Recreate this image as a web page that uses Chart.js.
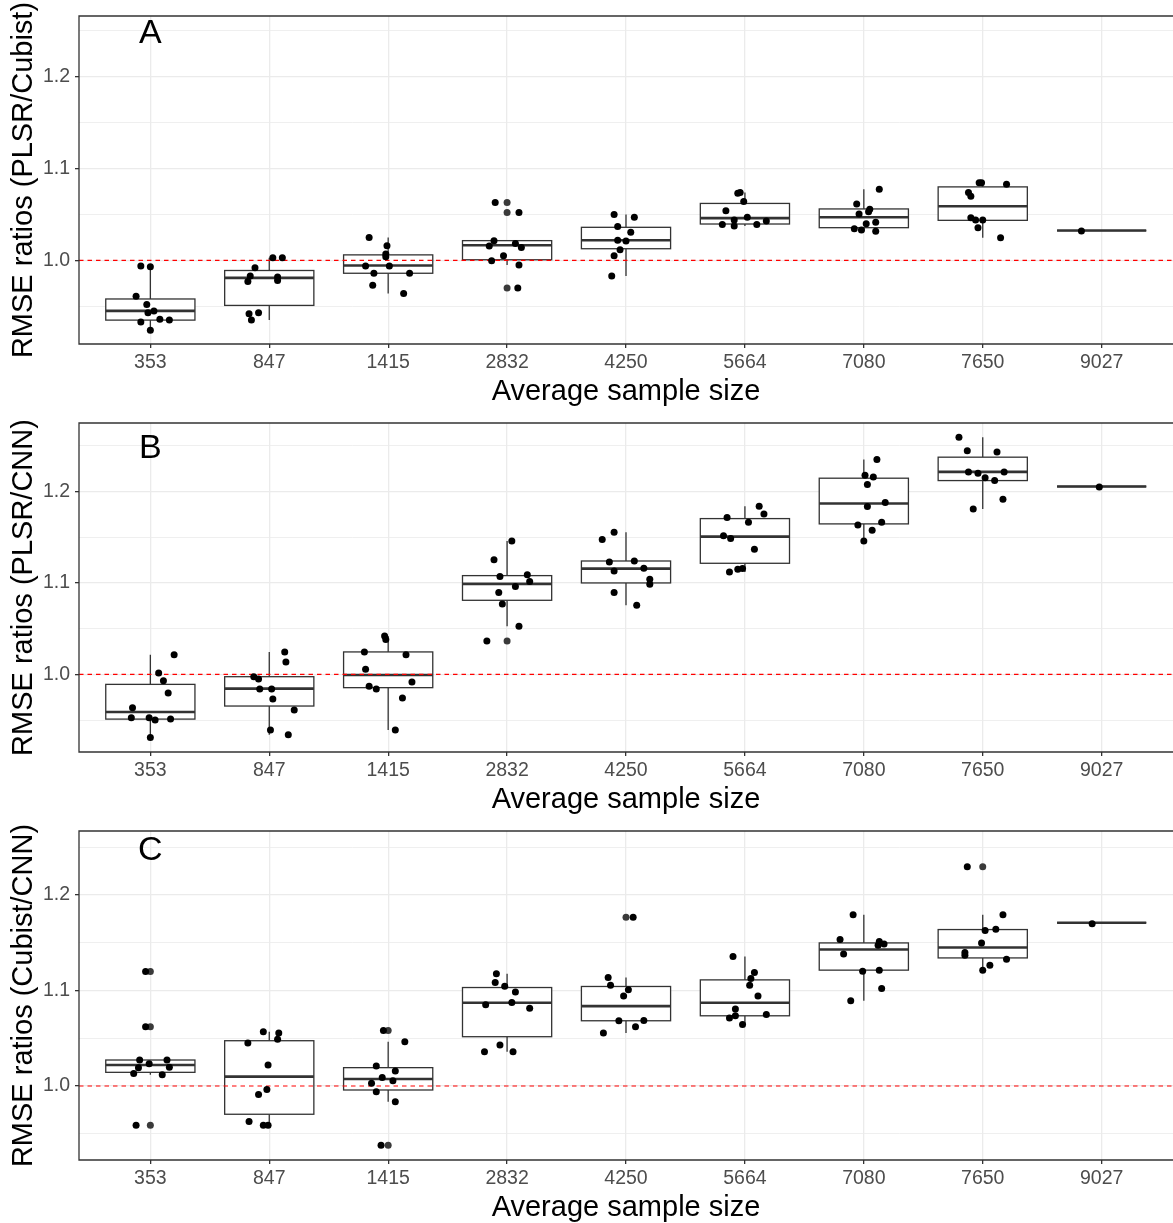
<!DOCTYPE html>
<html>
<head>
<meta charset="utf-8">
<title>RMSE ratios</title>
<script src="https://cdn.jsdelivr.net/npm/chart.js@4.4.0/dist/chart.umd.min.js"></script>
<style>
  body { margin: 0; background: #ffffff; overflow: hidden; }
  canvas { display: block; }
</style>
</head>
<body>
<canvas id="chartA" width="1173" height="407"></canvas>
<canvas id="chartB" width="1173" height="408"></canvas>
<canvas id="chartC" width="1173" height="408"></canvas>
<script>
var categories = ['353', '847', '1415', '2832', '4250', '5664', '7080', '7650', '9027'];
var yMajorTicks = [1.0, 1.1, 1.2];
var yMinorTicks = [0.95, 1.05, 1.15, 1.25];
var refValue = 1.0;

// panel A : PLSR/Cubist
var aPoints = [
    [0.994, 0.993, 0.961, 0.952, 0.943, 0.945, 0.933, 0.936, 0.935, 0.924],
    [1.003, 1.003, 0.992, 0.983, 0.977, 0.982, 0.978, 0.942, 0.943, 0.935],
    [1.025, 1.016, 1.007, 1.004, 0.994, 0.994, 0.986, 0.973, 0.986, 0.964],
    [1.063, 1.052, 1.0215, 1.0156, 1.0185, 1.014, 1.005, 0.9996, 0.995, 0.970],
    [1.050, 1.047, 1.037, 1.0305, 1.022, 1.021, 1.0116, 1.005, 0.983],
    [1.073, 1.074, 1.064, 1.054, 1.044, 1.047, 1.043, 1.039, 1.0375, 1.039],
    [1.0775, 1.0615, 1.0505, 1.053, 1.0556, 1.040, 1.0415, 1.0345, 1.033, 1.0316],
    [1.0844, 1.0844, 1.083, 1.0738, 1.0698, 1.0465, 1.044, 1.044, 1.0356, 1.0247],
    [1.032]
];
var aJitter = [
    [-0.08, 0.00, -0.12, -0.03, -0.02, 0.03, -0.08, 0.08, 0.16, 0.00],
    [0.03, 0.11, -0.12, -0.16, -0.18, 0.07, 0.07, -0.17, -0.09, -0.15],
    [-0.16, -0.01, -0.02, -0.02, -0.19, 0.01, -0.12, -0.13, 0.18, 0.13],
    [-0.10, 0.10, -0.11, -0.15, 0.07, 0.12, -0.03, -0.13, 0.10, 0.09],
    [-0.10, 0.07, -0.07, 0.04, -0.07, 0.00, -0.05, -0.10, -0.12],
    [-0.06, -0.04, -0.01, -0.16, -0.09, 0.02, 0.18, -0.19, -0.09, 0.10],
    [0.13, -0.06, -0.04, 0.04, 0.05, 0.02, 0.10, -0.08, -0.02, 0.10],
    [-0.03, -0.01, 0.20, -0.12, -0.10, -0.10, -0.06, 0.00, -0.04, 0.15],
    [-0.17]
];
var aOutCat = [3, 3, 3];
var aOutVal = [1.063, 1.052, 0.970];
var aLo  = [0.924, 0.935, 0.964, 0.995, 0.983, 1.0375, 1.0316, 1.0247, 1.0325];
var aQ1  = [0.935, 0.951, 0.986, 1.0007, 1.0127, 1.0396, 1.0356, 1.0436, 1.0325];
var aMed = [0.945, 0.981, 0.9945, 1.0164, 1.022, 1.046, 1.047, 1.059, 1.0325];
var aQ3  = [0.958, 0.989, 1.006, 1.0215, 1.036, 1.062, 1.056, 1.080, 1.0325];
var aHi  = [0.993, 1.003, 1.025, 1.0215, 1.050, 1.074, 1.0775, 1.0844, 1.0325];

// panel B : PLSR/CNN
var bPoints = [
    [1.0215, 1.0015, 0.993, 0.9796, 0.9635, 0.9526, 0.9526, 0.950, 0.951, 0.931],
    [1.0245, 1.0135, 0.9974, 0.995, 0.984, 0.984, 0.973, 0.961, 0.939, 0.934],
    [1.042, 1.038, 1.0245, 1.0055, 0.987, 0.984, 0.939, 1.0215, 0.9916, 0.974],
    [1.146, 1.1255, 1.107, 1.109, 1.1015, 1.096, 1.0894, 1.077, 1.0526, 1.0365],
    [1.1555, 1.1474, 1.123, 1.124, 1.113, 1.116, 1.104, 1.0985, 1.0894, 1.0755],
    [1.184, 1.1755, 1.1715, 1.1664, 1.1515, 1.1485, 1.1369, 1.112, 1.115, 1.1157],
    [1.235, 1.2179, 1.216, 1.2077, 1.188, 1.1836, 1.1635, 1.1664, 1.1577, 1.146],
    [1.2595, 1.2445, 1.2434, 1.2215, 1.220, 1.2215, 1.215, 1.212, 1.1916, 1.181],
    [1.2051]
];
var bJitter = [
    [0.20, 0.07, 0.11, 0.15, -0.15, -0.16, -0.01, 0.04, 0.17, 0.00],
    [0.13, 0.14, -0.13, -0.09, -0.08, 0.02, 0.03, 0.21, 0.01, 0.16],
    [-0.03, -0.02, -0.20, -0.19, -0.16, -0.10, 0.06, 0.15, 0.20, 0.12],
    [0.04, -0.11, -0.06, 0.17, 0.19, 0.07, -0.07, -0.04, 0.10, -0.17],
    [-0.10, -0.20, -0.14, 0.07, -0.10, 0.15, 0.20, 0.20, -0.10, 0.09],
    [0.12, 0.16, -0.15, 0.03, -0.18, -0.12, 0.08, -0.13, -0.06, -0.02],
    [0.11, 0.01, 0.08, 0.03, 0.18, 0.03, -0.05, 0.15, 0.07, 0.00],
    [-0.20, -0.13, 0.12, -0.12, -0.04, 0.18, 0.02, 0.10, 0.17, -0.08],
    [-0.02]
];
var bOutCat = [3];
var bOutVal = [1.0365];
var bLo  = [0.931, 0.934, 0.939, 1.0526, 1.0755, 1.112, 1.146, 1.181, 1.2055];
var bQ1  = [0.951, 0.9653, 0.9854, 1.081, 1.100, 1.1215, 1.1646, 1.212, 1.2055];
var bMed = [0.9588, 0.9843, 0.9993, 1.099, 1.1157, 1.1507, 1.1869, 1.2215, 1.2055];
var bQ3  = [0.989, 0.9974, 1.0245, 1.108, 1.124, 1.1704, 1.2146, 1.2376, 1.2055];
var bHi  = [1.0215, 1.0245, 1.042, 1.146, 1.1555, 1.184, 1.235, 1.2595, 1.2055];

// panel C : Cubist/CNN
var cPoints = [
    [1.12, 1.062, 1.0272, 1.0272, 1.0233, 1.019, 1.0195, 1.0132, 1.0118, 0.9589],
    [1.0568, 1.0554, 1.049, 1.045, 1.022, 0.9962, 0.991, 0.9627, 0.9589, 0.9589],
    [1.058, 1.021, 1.009, 1.0028, 1.0157, 1.0056, 0.994, 0.9836, 0.938, 1.0463],
    [1.1174, 1.1084, 1.1045, 1.0983, 1.0875, 1.085, 1.0815, 1.0429, 1.0359, 1.0359],
    [1.1767, 1.1136, 1.1056, 1.1007, 1.0941, 1.0683, 1.0686, 1.062, 1.0554],
    [1.1355, 1.1188, 1.1125, 1.1056, 1.0941, 1.0805, 1.0735, 1.0711, 1.0749, 1.0645],
    [1.1794, 1.1533, 1.1512, 1.1474, 1.1488, 1.1383, 1.1202, 1.1213, 1.1021, 1.0892],
    [1.2296, 1.1794, 1.1627, 1.1641, 1.1498, 1.1397, 1.1369, 1.1328, 1.1265, 1.1213],
    [1.17]
];
var cJitter = [
    [-0.04, -0.04, -0.09, 0.14, -0.01, -0.10, 0.16, -0.14, 0.10, -0.12],
    [-0.05, 0.08, 0.07, -0.18, -0.01, -0.02, -0.09, -0.17, -0.05, -0.01],
    [-0.04, -0.10, -0.05, -0.14, 0.06, 0.04, -0.10, 0.06, -0.06, 0.14],
    [-0.09, -0.10, -0.02, 0.07, 0.04, -0.18, 0.19, -0.06, -0.19, 0.05],
    [0.06, -0.15, -0.13, 0.02, -0.02, -0.06, 0.15, 0.08, -0.19],
    [-0.10, 0.08, 0.05, 0.04, 0.11, -0.08, -0.08, -0.13, 0.18, -0.02],
    [-0.09, -0.20, 0.13, 0.12, 0.17, -0.17, -0.01, 0.13, 0.15, -0.11],
    [-0.13, 0.17, 0.02, 0.11, -0.01, -0.15, -0.15, 0.20, 0.06, 0.00],
    [-0.08]
];
var cOutCat = [0, 0, 0, 2, 2, 4, 7];
var cOutVal = [1.12, 1.062, 0.9589, 1.058, 0.938, 1.1767, 1.2296];
var cLo  = [1.0118, 0.9589, 0.9836, 1.0359, 1.0554, 1.0645, 1.0892, 1.1213, 1.171];
var cQ1  = [1.0143, 0.9704, 0.9958, 1.0516, 1.0683, 1.0735, 1.1213, 1.1341, 1.171];
var cMed = [1.022, 1.0098, 1.0073, 1.0871, 1.0836, 1.0871, 1.1429, 1.145, 1.171];
var cQ3  = [1.0272, 1.0474, 1.0192, 1.1031, 1.1042, 1.1111, 1.1498, 1.1638, 1.171];
var cHi  = [1.0272, 1.0568, 1.0463, 1.1174, 1.1136, 1.1355, 1.1794, 1.1794, 1.171];

var FONT = "'Liberation Sans', Arial, sans-serif";
var xMin = -0.6, xMax = categories.length - 0.4;
var boxHalf = 0.375;

function isMajor(v) {
    return yMajorTicks.some(function (m) { return Math.abs(m - v) < 1e-6; });
}

// box + whiskers drawn under the points, through the chart's scales
var boxPlugin = {
    id: 'boxes',
    beforeDatasetsDraw: function (chart, args, opts) {
        var xs = chart.scales.x, ys = chart.scales.y, ctx = chart.ctx;
        ctx.save();
        ctx.strokeStyle = '#333333';
        for (var i = 0; i < opts.med.length; i++) {
            var xc = xs.getPixelForValue(i);
            var x0 = xs.getPixelForValue(i - boxHalf);
            var x1 = xs.getPixelForValue(i + boxHalf);
            var top = ys.getPixelForValue(opts.q3[i]);
            var bot = ys.getPixelForValue(opts.q1[i]);
            var mid = ys.getPixelForValue(opts.med[i]);
            ctx.lineWidth = 1.3;
            ctx.beginPath();
            ctx.moveTo(xc, ys.getPixelForValue(opts.hi[i]));
            ctx.lineTo(xc, top);
            ctx.moveTo(xc, bot);
            ctx.lineTo(xc, ys.getPixelForValue(opts.lo[i]));
            ctx.stroke();
            ctx.fillStyle = '#ffffff';
            ctx.fillRect(x0, top, x1 - x0, bot - top);
            ctx.strokeRect(x0, top, x1 - x0, bot - top);
            ctx.lineWidth = 2.6;
            ctx.beginPath();
            ctx.moveTo(x0, mid);
            ctx.lineTo(x1, mid);
            ctx.stroke();
        }
        ctx.restore();
    },
    afterDraw: function (chart, args, opts) {
        var a = chart.chartArea, ctx = chart.ctx;
        ctx.save();
        // panel letter, cap height centred on y = 1.25
        ctx.fillStyle = '#000000';
        ctx.font = '34px ' + FONT;
        ctx.textAlign = 'center';
        ctx.textBaseline = 'alphabetic';
        ctx.fillText(opts.letter, chart.scales.x.getPixelForValue(0), chart.scales.y.getPixelForValue(1.25) + 12.5);
        // panel border: the right side is cropped away in the original figure
        ctx.strokeStyle = '#333333';
        ctx.lineWidth = 1.3;
        ctx.beginPath();
        ctx.moveTo(chart.width, a.top);
        ctx.lineTo(a.left, a.top);
        ctx.lineTo(a.left, a.bottom);
        ctx.lineTo(chart.width, a.bottom);
        ctx.stroke();
        ctx.restore();
    }
};

function makePanel(id, letter, yTitle, points, jitter, outCat, outVal, lo, q1, med, q3, hi, yMin, yMax) {
    var pts = [];
    points.forEach(function (vals, i) {
        vals.forEach(function (v, j) {
            pts.push({ x: i + jitter[i][j], y: v });
        });
    });
    var outs = outCat.map(function (c, k) { return { x: c, y: outVal[k] }; });

    var ctx = document.getElementById(id).getContext('2d');
    return new Chart(ctx, {
        type: 'scatter',
        data: {
            datasets: [{
                label: 'points',
                data: pts,
                backgroundColor: '#000000',
                borderColor: '#000000',
                borderWidth: 0,
                pointRadius: 3.5,
                order: 0
            }, {
                label: 'outliers',
                data: outs,
                backgroundColor: '#3a3a3a',
                borderColor: '#3a3a3a',
                borderWidth: 0,
                pointRadius: 3.5,
                order: 1
            }, {
                type: 'line',
                label: 'ref',
                data: [{ x: xMin, y: refValue }, { x: xMax, y: refValue }],
                borderColor: '#ff0000',
                borderWidth: 1.2,
                borderDash: [4.5, 4],
                pointRadius: 0,
                fill: false,
                order: 2
            }]
        },
        options: {
            responsive: false,
            animation: false,
            layout: { autoPadding: false, padding: { top: 16, left: 0, right: 0, bottom: 0 } },
            plugins: {
                legend: { display: false },
                tooltip: { enabled: false },
                boxes: { letter: letter, lo: lo, q1: q1, med: med, q3: q3, hi: hi }
            },
            scales: {
                x: {
                    type: 'linear',
                    min: xMin,
                    max: xMax,
                    afterBuildTicks: function (axis) {
                        axis.ticks = categories.map(function (c, i) { return { value: i }; });
                    },
                    afterFit: function (axis) {
                        axis.height = 63;
                        axis.paddingLeft = 0;
                        axis.paddingRight = 0;
                    },
                    ticks: {
                        autoSkip: false,
                        maxRotation: 0,
                        padding: 3,
                        color: '#4d4d4d',
                        font: { family: FONT, size: 19.5 },
                        callback: function (v) { return categories[Math.round(v)]; }
                    },
                    grid: { color: '#ebebeb', lineWidth: 1.3, tickColor: '#333333', tickLength: 4 },
                    border: { display: false },
                    title: {
                        display: true,
                        text: 'Average sample size',
                        color: '#000000',
                        font: { family: FONT, size: 29, lineHeight: 1 },
                        padding: { top: 0, bottom: 1 }
                    }
                },
                y: {
                    min: yMin,
                    max: yMax,
                    afterBuildTicks: function (axis) {
                        axis.ticks = yMajorTicks.concat(yMinorTicks)
                            .filter(function (v) { return v >= yMin && v <= yMax; })
                            .sort(function (p, q) { return p - q; })
                            .map(function (v) { return { value: v }; });
                    },
                    afterFit: function (axis) {
                        axis.width = 79;
                        axis.paddingTop = 0;
                        axis.paddingBottom = 0;
                    },
                    ticks: {
                        autoSkip: false,
                        padding: 5,
                        color: '#4d4d4d',
                        font: { family: FONT, size: 19.5 },
                        callback: function (v) { return isMajor(v) ? v.toFixed(1) : ''; }
                    },
                    grid: {
                        color: '#ebebeb',
                        lineWidth: function (c) { return isMajor(c.tick.value) ? 1.3 : 0.8; },
                        tickColor: function (c) { return isMajor(c.tick.value) ? '#333333' : 'rgba(0,0,0,0)'; },
                        tickLength: 4
                    },
                    border: { display: false },
                    title: {
                        display: true,
                        text: yTitle,
                        color: '#000000',
                        font: { family: FONT, size: 29 },
                        padding: { top: 7, bottom: 0 }
                    }
                }
            }
        },
        plugins: [boxPlugin]
    });
}

makePanel('chartA', 'A', 'RMSE ratios (PLSR/Cubist)', aPoints, aJitter, aOutCat, aOutVal,
    aLo, aQ1, aMed, aQ3, aHi, 0.909, 1.266);
makePanel('chartB', 'B', 'RMSE ratios (PLSR/CNN)', bPoints, bJitter, bOutCat, bOutVal,
    bLo, bQ1, bMed, bQ3, bHi, 0.915, 1.275);
makePanel('chartC', 'C', 'RMSE ratios (Cubist/CNN)', cPoints, cJitter, cOutCat, cOutVal,
    cLo, cQ1, cMed, cQ3, cHi, 0.9225, 1.267);
</script>
</body>
</html>
